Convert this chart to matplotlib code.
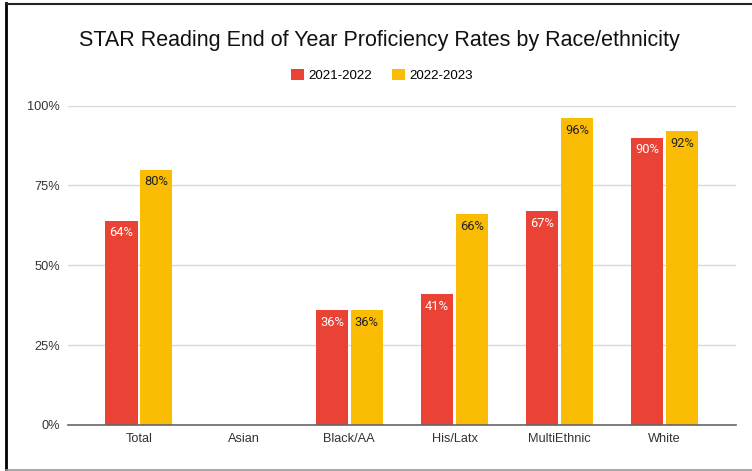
import numpy as np
import matplotlib.pyplot as plt
from matplotlib.lines import Line2D

plt.rcParams['font.family'] = ['Liberation Sans', 'DejaVu Sans']

# Data
groups = ['Total', 'Asian', 'Black/AA', 'His/Latx', 'MultiEthnic', 'White']
years = ['2021-2022', '2022-2023']
rate_2122 = [64, np.nan, 36, 41, 67, 90]
rate_2223 = [80, np.nan, 36, 66, 96, 92]
yticks = [0, 25, 50, 75, 100]

red = '#EA4335'
yellow = '#FBBC04'

fig = plt.figure(figsize=(7.52, 4.71), dpi=100)
ax = fig.add_axes([0.0904, 0.0977, 0.888, 0.678])

x = np.arange(len(groups))
w = 0.305
off = 0.166
b1 = ax.bar(x - off, rate_2122, w, color=red, label=years[0], zorder=3)
b2 = ax.bar(x + off, rate_2223, w, color=yellow, label=years[1], zorder=3)

# labels inside the top of each bar
for bars, vals, col in [(b1, rate_2122, 'white'), (b2, rate_2223, '#222222')]:
    for rect, v in zip(bars, vals):
        if np.isnan(v):
            continue
        ax.text(rect.get_x() + rect.get_width() / 2, v - 1.8, f'{v:.0f}%',
                ha='center', va='top', fontsize=9.3, color=col,
                family=['Roboto', 'DejaVu Sans'], zorder=4)

ax.set_xlim(-0.675, len(groups) - 1 + 0.675)
ax.set_ylim(0, 100)
ax.set_yticks(yticks)
ax.set_yticklabels([f'{t}%' for t in yticks])
ax.set_xticks(x)
ax.set_xticklabels(groups)
ax.tick_params(axis='both', length=0, labelsize=9.2, colors='#333333')
ax.tick_params(axis='y', pad=6)
ax.tick_params(axis='x', pad=6)
ax.grid(axis='y', color='#d9d9d9', linewidth=1, zorder=0)
for s in ['top', 'right', 'left']:
    ax.spines[s].set_visible(False)
ax.spines['bottom'].set_color('#666666')
ax.spines['bottom'].set_linewidth(1.2)
ax.spines['bottom'].set_zorder(5)

fig.text(0.505, 0.915, 'STAR Reading End of Year Proficiency Rates by Race/ethnicity',
         ha='center', va='center', fontsize=15.5, color='#111111')
fig.legend(handles=[b1, b2], loc='center', bbox_to_anchor=(0.508, 0.84), ncol=2,
           frameon=False, fontsize=9.6, handlelength=0.95, handleheight=0.95,
           columnspacing=1.5, handletextpad=0.35)

# outer frame lines
fig.add_artist(Line2D([0.0075, 0.0075], [0, 0.993], color='black', lw=2))
fig.add_artist(Line2D([0.0075, 1], [0.992, 0.992], color='#222222', lw=1.5))
fig.add_artist(Line2D([0.0075, 1], [0.003, 0.003], color='#999999', lw=1.2))

fig.savefig('out.png', dpi=100)
